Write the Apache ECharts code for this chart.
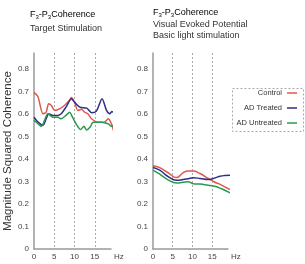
<!DOCTYPE html>
<html>
<head>
<meta charset="utf-8">
<style>
  html, body { margin: 0; padding: 0; background: #fff; }
  #chart { width: 305px; height: 264px; }
</style>
<script src="https://cdn.jsdelivr.net/npm/echarts@6/dist/echarts.min.js"></script>
</head>
<body>
<div id="chart"></div>
<script>
// left panel: target stimulation
const leftControlHz = [0, 1, 2.2, 3, 3.6, 4.3, 5.1, 6.3, 7.5, 8.8, 9.2, 10, 10.8, 11.7, 12.5, 13.3, 14.2, 15.8, 17.4, 18.3, 19.1, 19.7];
const leftControl = [0.695, 0.675, 0.60, 0.607, 0.645, 0.637, 0.615, 0.622, 0.637, 0.66, 0.672, 0.652, 0.615, 0.62, 0.607, 0.60, 0.578, 0.563, 0.563, 0.578, 0.556, 0.52];
const leftTreatedHz = [0, 1, 2.2, 3, 3.6, 4.6, 5.9, 6.7, 7.9, 9.2, 10, 11.3, 13, 14.2, 15.4, 16.8, 17.9, 18.7, 19.2, 20];
const leftTreated = [0.585, 0.563, 0.549, 0.578, 0.60, 0.593, 0.593, 0.60, 0.63, 0.667, 0.652, 0.63, 0.625, 0.605, 0.612, 0.667, 0.615, 0.60, 0.61, 0.60];
const leftUntreatedHz = [0, 1, 1.8, 2.6, 3.4, 4.6, 5.9, 6.7, 7.9, 8.8, 9.5, 10.6, 11.5, 12.3, 13, 13.8, 14.6, 16.6, 18.3, 19.1, 19.9];
const leftUntreated = [0.571, 0.556, 0.544, 0.571, 0.60, 0.585, 0.585, 0.578, 0.593, 0.607, 0.585, 0.549, 0.53, 0.545, 0.528, 0.54, 0.563, 0.563, 0.556, 0.545, 0.55];

// right panel: visual evoked potential
const rightHz = [0, 1.7, 3.7, 6, 7.6, 8.9, 10.2, 11.9, 14, 15.3, 16.1, 17, 18.2, 19.5];
const rightControl = [0.37, 0.361, 0.34, 0.317, 0.338, 0.346, 0.346, 0.335, 0.313, 0.30, 0.293, 0.287, 0.276, 0.264];
const rightTreated = [0.362, 0.35, 0.323, 0.305, 0.308, 0.312, 0.316, 0.313, 0.308, 0.313, 0.318, 0.323, 0.326, 0.327];
const rightUntreated = [0.35, 0.332, 0.308, 0.293, 0.296, 0.298, 0.29, 0.288, 0.283, 0.28, 0.276, 0.27, 0.261, 0.249];

const groupNames = ['Control', 'AD Treated', 'AD Untreated'];
const groupColors = ['#e0574f', '#2f2f85', '#2b9a4f'];

const pair = (xs, ys) => xs.map((x, i) => [x, ys[i]]);

const font = 'Liberation Sans';
const gray = '#999';

const myChart = echarts.init(document.getElementById('chart'));

function makeXAxis(gridIndex) {
    return {
        type: 'value',
        gridIndex: gridIndex,
        min: 0,
        max: 19,
        interval: 5,
        name: 'Hz',
        nameLocation: 'end',
        nameGap: 3,
        nameTextStyle: { fontFamily: font, fontSize: 8, color: '#444', verticalAlign: 'top', padding: [4, 0, 0, 0] },
        axisLine: { lineStyle: { color: gray, width: 1.5 } },
        axisTick: { show: false },
        axisLabel: { fontFamily: font, fontSize: 8, color: '#444', margin: 4, showMaxLabel: false },
        splitLine: { show: true, showMinLine: false, showMaxLine: false, lineStyle: { color: '#aaa', type: [2, 2], width: 1 } }
    };
}

function makeYAxis(gridIndex, withName) {
    return {
        type: 'value',
        gridIndex: gridIndex,
        min: 0,
        max: 0.87,
        interval: 0.1,
        name: withName ? 'Magnitude Squared Coherence' : '',
        nameLocation: 'middle',
        nameGap: 17,
        nameTextStyle: { fontFamily: font, fontSize: 11.5, color: '#333' },
        axisLine: { show: true, lineStyle: { color: gray, width: 1.5 } },
        axisTick: { show: false },
        axisLabel: {
            fontFamily: font, fontSize: 8, color: '#444', margin: 5, showMaxLabel: false,
            formatter: v => v === 0 ? '0' : v.toFixed(1)
        },
        splitLine: { show: false }
    };
}

const lineDefaults = {
    type: 'line',
    showSymbol: false,
    symbol: 'none',
    clip: false,
    animation: false,
    lineStyle: { width: 1.5 }
};

const leftSets = [pair(leftControlHz, leftControl), pair(leftTreatedHz, leftTreated), pair(leftUntreatedHz, leftUntreated)];
const rightSets = [pair(rightHz, rightControl), pair(rightHz, rightTreated), pair(rightHz, rightUntreated)];

const series = [];
groupNames.forEach((name, i) => {
    series.push({ ...lineDefaults, name: name, color: groupColors[i], xAxisIndex: 0, yAxisIndex: 0, smooth: 0.25, data: leftSets[i] });
});
groupNames.forEach((name, i) => {
    series.push({ ...lineDefaults, name: name, color: groupColors[i], xAxisIndex: 1, yAxisIndex: 1, smooth: true, data: rightSets[i] });
});

const titleRich = {
    m: { fontFamily: font, fontSize: 9, color: '#333' },
    s: { fontFamily: font, fontSize: 6, color: '#333', padding: [5, 0, 0, 0] }
};
const coherenceTitle = '{m|F}{s|3}{m|-P}{s|3}{m|Coherence}';

const option = {
    animation: false,
    grid: [
        { left: 34, top: 53, width: 77, height: 196 },
        { left: 153, top: 53, width: 75, height: 196 }
    ],
    xAxis: [makeXAxis(0), makeXAxis(1)],
    yAxis: [makeYAxis(0, true), makeYAxis(1, false)],
    legend: {
        data: groupNames,
        orient: 'vertical',
        right: 5,
        top: 87,
        align: 'right',
        icon: 'rect',
        itemWidth: 10,
        itemHeight: 1.5,
        itemGap: 5,
        padding: [1, 3, 2, 3],
        selectedMode: false,
        textStyle: { fontFamily: font, fontSize: 7.5, color: '#333', lineHeight: 10 }
    },
    graphic: [
        { type: 'text', left: 30, top: 10, style: { text: coherenceTitle, rich: titleRich } },
        { type: 'text', left: 30, top: 24, style: { text: 'Target Stimulation', fontFamily: font, fontSize: 9, fill: '#333' } },
        { type: 'text', left: 153, top: 8, style: { text: coherenceTitle, rich: titleRich } },
        { type: 'text', left: 153, top: 20, style: { text: 'Visual Evoked Potential', fontFamily: font, fontSize: 9, fill: '#333' } },
        { type: 'text', left: 153, top: 31, style: { text: 'Basic light stimulation', fontFamily: font, fontSize: 9, fill: '#333' } },
        {
            type: 'rect', left: 230, top: 86, z: 0,
            shape: { width: 71, height: 43 },
            style: { fill: 'none', stroke: '#aaa', lineWidth: 1, lineDash: [2, 2] }
        }
    ],
    series: series
};

myChart.setOption(option);

window.onresize = function () {
    myChart.resize();
};
</script>
</body>
</html>
